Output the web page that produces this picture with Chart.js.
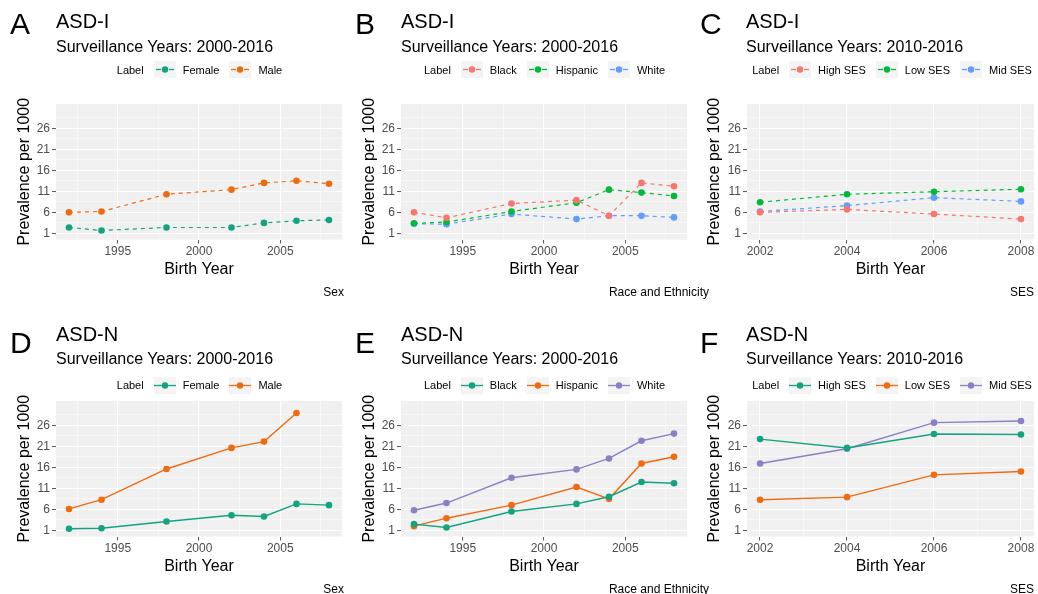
<!DOCTYPE html>
<html lang="en">
<head>
<meta charset="UTF-8">
<title>ASD prevalence by birth year</title>
<script src="https://cdn.jsdelivr.net/npm/chart.js"></script>
<style>
  body {
    margin: 0;
    background: #fff;
    font-family: "Liberation Sans", Arial, sans-serif;
  }
  #fig {
    position: relative;
    width: 1038px;
    height: 594px;
    overflow: hidden;
  }
  #fig canvas, .txt, .legend {
    position: absolute;
  }
  .txt {
    line-height: 1;
    white-space: nowrap;
    color: #000;
  }
  .letter { font-size: 30px; }
  .title { font-size: 20px; }
  .sub { font-size: 16px; }
  .cap { font-size: 12px; text-align: right; }
  .legend {
    display: flex;
    justify-content: center;
    align-items: center;
    height: 18px;
    font-size: 11px;
    color: #000;
    white-space: nowrap;
  }
  .legend svg { margin: 0 7px 0 0; }
  .legend .lab { margin-right: 10px; }
  .legend .item { margin-right: 10px; }
  .legend .item:last-child { margin-right: 0; }
</style>
</head>
<body>
<div id="fig"></div>
<script>
// birth years
const yearsLong = [1992, 1994, 1998, 2002, 2004, 2006, 2008];
const yearsSES = [2002, 2004, 2006, 2008];

// A: ASD-I by sex
const aFemale = [2.4, 1.7, 2.4, 2.4, 3.5, 4.0, 4.2];
const aMale = [6.0, 6.2, 10.3, 11.4, 13.0, 13.5, 12.8];
// B: ASD-I by race and ethnicity
const bBlack = [6.0, 4.7, 8.1, 8.9, 5.2, 13.0, 12.2];
const bHispanic = [3.4, 3.7, 6.2, 8.3, 11.4, 10.7, 9.9];
const bWhite = [3.3, 3.2, 5.6, 4.4, 5.2, 5.2, 4.8];
// C: ASD-I by SES
const cHigh = [6.0, 6.7, 5.6, 4.4];
const cLow = [8.4, 10.3, 10.9, 11.5];
const cMid = [6.2, 7.6, 9.5, 8.6];
// D: ASD-N by sex (no male point for 2008)
const dFemale = [1.4, 1.5, 3.1, 4.6, 4.3, 7.3, 7.0];
const dMale = [6.1, 8.3, 15.6, 20.6, 22.1, 28.9, null];
// E: ASD-N by race and ethnicity
const eBlack = [2.5, 1.7, 5.5, 7.3, 9.0, 12.5, 12.2];
const eHispanic = [2.0, 3.9, 7.0, 11.3, 8.5, 16.9, 18.5];
const eWhite = [5.8, 7.5, 13.5, 15.5, 18.1, 22.3, 24.0];
// F: ASD-N by SES
const fHigh = [22.7, 20.6, 23.9, 23.8];
const fLow = [8.3, 8.9, 14.2, 15.0];
const fMid = [16.9, 20.4, 26.6, 27.0];

// axis ticks (majors get labels, the rest are minor grid lines)
const yMajor = [1, 6, 11, 16, 21, 26];
const yTicks = [1, 3.5, 6, 8.5, 11, 13.5, 16, 18.5, 21, 23.5, 26, 28.5];
const xLongMajor = [1995, 2000, 2005];
const xLongTicks = [1992.5, 1995, 1997.5, 2000, 2002.5, 2005, 2007.5];
const xSESMajor = [2002, 2004, 2006, 2008];
const xSESTicks = [2002, 2003, 2004, 2005, 2006, 2007, 2008];

const hue = ['#F8766D', '#00BA38', '#619CFF'];
const teal = '#14A37F', orange = '#F06A10', purple = '#8A80C6';

const fig = document.getElementById('fig');

function addText(cls, text, left, top, extra) {
  const d = document.createElement('div');
  d.className = 'txt ' + cls;
  d.textContent = text;
  d.style.left = left + 'px';
  d.style.top = top + 'px';
  if (extra) Object.assign(d.style, extra);
  fig.appendChild(d);
}

function keySvg(color, dashed) {
  const ns = 'http://www.w3.org/2000/svg';
  const svg = document.createElementNS(ns, 'svg');
  svg.setAttribute('width', 22);
  svg.setAttribute('height', 17);
  let inner = '<rect x="0" y="0" width="22" height="17" fill="#F4F4F4"/>';
  if (dashed) {
    inner += '<line x1="2" y1="8.5" x2="7" y2="8.5" stroke="' + color + '" stroke-width="1.3"/>';
    inner += '<line x1="15" y1="8.5" x2="20" y2="8.5" stroke="' + color + '" stroke-width="1.3"/>';
  } else {
    inner += '<line x1="0" y1="8.5" x2="22" y2="8.5" stroke="' + color + '" stroke-width="1.3"/>';
  }
  inner += '<circle cx="11" cy="8.5" r="3.2" fill="' + color + '"/>';
  svg.innerHTML = inner;
  return svg;
}

function addLegend(names, colors, dashed, left, width, centerY) {
  const lg = document.createElement('div');
  lg.className = 'legend';
  lg.style.left = left + 'px';
  lg.style.width = width + 'px';
  lg.style.top = (centerY - 9) + 'px';
  const lab = document.createElement('span');
  lab.className = 'lab';
  lab.textContent = 'Label';
  lg.appendChild(lab);
  names.forEach((n, i) => {
    lg.appendChild(keySvg(colors[i], dashed));
    const s = document.createElement('span');
    s.className = 'item';
    s.textContent = n;
    lg.appendChild(s);
  });
  fig.appendChild(lg);
}

function series(xs, ys, color, dashed) {
  return {
    data: xs.map((x, i) => ({ x: x, y: ys[i] })).filter(p => p.y !== null),
    borderColor: color,
    backgroundColor: color,
    pointBackgroundColor: color,
    pointBorderWidth: 0,
    pointRadius: 3.3,
    borderWidth: dashed ? 1.2 : 1.4,
    borderDash: dashed ? [4, 4] : [],
    tension: 0
  };
}

const panelBg = {
  id: 'panelBg',
  beforeDraw(chart) {
    const a = chart.chartArea;
    const ctx = chart.ctx;
    ctx.save();
    ctx.fillStyle = '#F0F0F0';
    ctx.fillRect(a.left, a.top, a.right - a.left, a.bottom - a.top);
    ctx.restore();
  }
};

function makePanel(p) {
  const canvas = document.createElement('canvas');
  canvas.width = p.w;
  canvas.height = 297;
  canvas.style.left = p.x + 'px';
  canvas.style.top = p.y + 'px';
  fig.appendChild(canvas);

  const xTicks = p.ses ? xSESTicks : xLongTicks;
  const xMajor = p.ses ? xSESMajor : xLongMajor;
  const xs = p.ses ? yearsSES : yearsLong;

  const gridOpts = (majors) => ({
    color: '#FFFFFF',
    lineWidth: c => (c.tick && majors.includes(c.tick.value)) ? 1.1 : 0.5,
    tickColor: c => (c.tick && majors.includes(c.tick.value)) ? '#555555' : 'rgba(0,0,0,0)',
    tickLength: 4,
    tickWidth: 1
  });

  new Chart(canvas.getContext('2d'), {
    type: 'line',
    data: {
      datasets: p.values.map((v, i) => series(xs, v, p.colors[i], p.dashed))
    },
    options: {
      responsive: false,
      animation: false,
      devicePixelRatio: 1,
      layout: { padding: { left: 15, right: p.w - p.plotRight, top: 104, bottom: 17.5 } },
      plugins: { legend: { display: false }, tooltip: { enabled: false } },
      scales: {
        x: {
          type: 'linear',
          min: p.ses ? 2001.7 : 1991.2,
          max: p.ses ? 2008.3 : 2008.8,
          afterBuildTicks: s => { s.ticks = xTicks.map(v => ({ value: v })); },
          afterFit: s => { s.height = 40; },
          border: { display: false },
          grid: gridOpts(xMajor),
          ticks: {
            autoSkip: false,
            maxRotation: 0,
            padding: 1,
            color: '#4D4D4D',
            font: { family: '"Liberation Sans", Arial, sans-serif', size: 12 },
            callback: v => xMajor.includes(v) ? String(v) : ''
          },
          title: {
            display: true,
            text: 'Birth Year',
            color: '#000',
            padding: 0,
            font: { family: '"Liberation Sans", Arial, sans-serif', size: 16 }
          }
        },
        y: {
          type: 'linear',
          min: -0.45,
          max: 31.75,
          afterBuildTicks: s => { s.ticks = yTicks.map(v => ({ value: v })); },
          afterFit: s => { s.width = p.plotLeft - 15; },
          border: { display: false },
          grid: gridOpts(yMajor),
          ticks: {
            autoSkip: false,
            padding: 2,
            color: '#4D4D4D',
            font: { family: '"Liberation Sans", Arial, sans-serif', size: 12 },
            callback: v => yMajor.includes(v) ? String(v) : ''
          },
          title: {
            display: true,
            text: 'Prevalence per 1000',
            color: '#000',
            padding: 0,
            font: { family: '"Liberation Sans", Arial, sans-serif', size: 16 }
          }
        }
      }
    },
    plugins: [panelBg]
  });

  // titles, legend, caption
  const top = p.y === 0;
  addText('letter', p.letter, p.x + 10, top ? 9 : 328);
  addText('title', p.title, p.x + 56, top ? 11 : 324);
  addText('sub', p.sub, p.x + 56, top ? 39 : 351);
  addLegend(p.names, p.colors, p.dashed, p.x + p.plotLeft, p.plotRight - p.plotLeft, top ? 69.5 : 385);
  addText('cap', p.caption, 0, top ? 286 : 583, { left: 'auto', right: (1038 - p.capRight) + 'px' });
}

const panels = [
  { letter: 'A', title: 'ASD-I', sub: 'Surveillance Years: 2000-2016', caption: 'Sex', capRight: 344,
    x: 0, y: 0, w: 346, plotLeft: 56, plotRight: 343, ses: false, dashed: true,
    names: ['Female', 'Male'], colors: [teal, orange], values: [aFemale, aMale] },
  { letter: 'B', title: 'ASD-I', sub: 'Surveillance Years: 2000-2016', caption: 'Race and Ethnicity', capRight: 709,
    x: 345, y: 0, w: 346, plotLeft: 56, plotRight: 343, ses: false, dashed: true,
    names: ['Black', 'Hispanic', 'White'], colors: hue, values: [bBlack, bHispanic, bWhite] },
  { letter: 'C', title: 'ASD-I', sub: 'Surveillance Years: 2010-2016', caption: 'SES', capRight: 1034,
    x: 690, y: 0, w: 348, plotLeft: 57, plotRight: 347, ses: true, dashed: true,
    names: ['High SES', 'Low SES', 'Mid SES'], colors: hue, values: [cHigh, cLow, cMid] },
  { letter: 'D', title: 'ASD-N', sub: 'Surveillance Years: 2000-2016', caption: 'Sex', capRight: 344,
    x: 0, y: 297, w: 346, plotLeft: 56, plotRight: 343, ses: false, dashed: false,
    names: ['Female', 'Male'], colors: [teal, orange], values: [dFemale, dMale] },
  { letter: 'E', title: 'ASD-N', sub: 'Surveillance Years: 2000-2016', caption: 'Race and Ethnicity', capRight: 709,
    x: 345, y: 297, w: 346, plotLeft: 56, plotRight: 343, ses: false, dashed: false,
    names: ['Black', 'Hispanic', 'White'], colors: [teal, orange, purple], values: [eBlack, eHispanic, eWhite] },
  { letter: 'F', title: 'ASD-N', sub: 'Surveillance Years: 2010-2016', caption: 'SES', capRight: 1034,
    x: 690, y: 297, w: 348, plotLeft: 57, plotRight: 347, ses: true, dashed: false,
    names: ['High SES', 'Low SES', 'Mid SES'], colors: [teal, orange, purple], values: [fHigh, fLow, fMid] }
];

panels.forEach(makePanel);
</script>
</body>
</html>
